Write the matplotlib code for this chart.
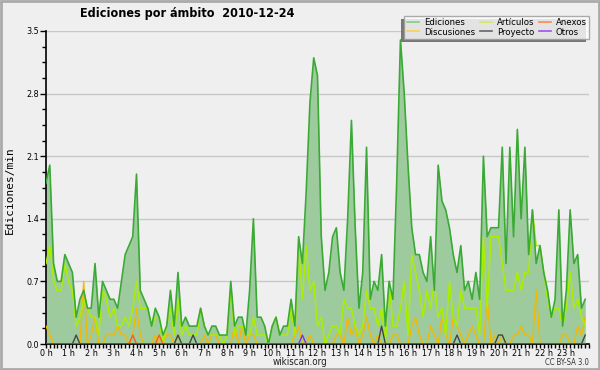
import numpy as np
import matplotlib
matplotlib.use("Agg")
import matplotlib.pyplot as plt
from matplotlib.lines import Line2D
from matplotlib.patches import Rectangle

plt.rcParams["font.family"] = ["DejaVu Sans"]
plt.rcParams["font.stretch"] = "condensed"

# 10-minute buckets (144 per day), values in edits/min
ediciones = [
    1.8, 2.0, 0.9, 0.7, 0.7, 1.0, 0.9, 0.8, 0.3, 0.5, 0.6, 0.4, 0.4, 0.9, 0.3, 0.7, 0.6, 0.5, 0.5, 0.4, 0.7, 1.0, 1.1, 1.2,
    1.9, 0.6, 0.5, 0.4, 0.2, 0.4, 0.3, 0.1, 0.2, 0.6, 0.2, 0.8, 0.2, 0.3, 0.2, 0.2, 0.2, 0.4, 0.2, 0.1, 0.2, 0.2, 0.1, 0.1,
    0.1, 0.7, 0.2, 0.3, 0.3, 0.1, 0.6, 1.4, 0.3, 0.3, 0.2, 0.0, 0.2, 0.3, 0.1, 0.2, 0.2, 0.5, 0.2, 1.2, 0.9, 1.7, 2.7, 3.2,
    3.0, 1.2, 0.6, 0.8, 1.2, 1.3, 0.8, 0.6, 1.4, 2.5, 1.3, 0.4, 0.8, 2.2, 0.5, 0.7, 0.6, 1.0, 0.2, 0.7, 0.5, 1.8, 3.4, 2.8,
    2.0, 1.3, 1.0, 1.0, 0.8, 0.7, 1.2, 0.6, 2.0, 1.6, 1.5, 1.3, 1.0, 0.8, 1.1, 0.6, 0.7, 0.5, 0.8, 0.5, 2.1, 1.2, 1.3, 1.3,
    1.3, 2.2, 0.9, 2.2, 1.2, 2.4, 1.4, 2.2, 1.0, 1.5, 0.9, 1.1, 0.8, 0.6, 0.3, 0.5, 1.5, 0.2, 0.6, 1.5, 0.9, 1.0, 0.4, 0.5,
]
articulos = [
    0.9, 1.1, 0.7, 0.6, 0.6, 0.9, 0.7, 0.6, 0.2, 0.3, 0.5, 0.4, 0.3, 0.3, 0.1, 0.6, 0.5, 0.3, 0.4, 0.2, 0.2, 0.3, 0.2, 0.4,
    0.7, 0.4, 0.4, 0.4, 0.2, 0.3, 0.3, 0.0, 0.2, 0.4, 0.1, 0.5, 0.1, 0.2, 0.1, 0.1, 0.1, 0.4, 0.2, 0.1, 0.1, 0.1, 0.1, 0.0,
    0.1, 0.6, 0.1, 0.2, 0.2, 0.1, 0.1, 0.3, 0.1, 0.1, 0.1, 0.0, 0.2, 0.3, 0.1, 0.1, 0.1, 0.4, 0.1, 1.1, 0.5, 1.1, 0.6, 0.7,
    0.2, 0.3, 0.0, 0.1, 0.2, 0.2, 0.1, 0.5, 0.4, 0.4, 0.2, 0.1, 0.2, 0.6, 0.4, 0.4, 0.2, 0.4, 0.0, 0.7, 0.2, 0.2, 0.4, 0.7,
    0.1, 1.0, 0.8, 0.6, 0.3, 0.6, 0.4, 0.7, 0.3, 0.4, 0.1, 0.7, 0.3, 0.2, 0.6, 0.4, 0.4, 0.4, 0.4, 0.1, 1.2, 0.4, 1.2, 1.2,
    1.2, 0.9, 0.6, 0.6, 0.6, 0.8, 0.6, 0.8, 0.8, 1.5, 1.1, 1.1, 0.8, 0.5, 0.3, 0.4, 0.4, 0.2, 0.4, 0.8, 0.4, 0.5, 0.3, 0.2,
]
discusiones = [
    0.2, 0.1, 0.0, 0.0, 0.0, 0.0, 0.0, 0.0, 0.0, 0.0, 0.7, 0.0, 0.1, 0.3, 0.0, 0.0, 0.1, 0.1, 0.1, 0.2, 0.1, 0.1, 0.0, 0.1,
    0.4, 0.1, 0.0, 0.0, 0.0, 0.1, 0.0, 0.0, 0.1, 0.1, 0.0, 0.1, 0.0, 0.0, 0.0, 0.0, 0.0, 0.0, 0.1, 0.0, 0.1, 0.1, 0.0, 0.0,
    0.0, 0.0, 0.2, 0.0, 0.2, 0.0, 0.1, 0.1, 0.0, 0.0, 0.0, 0.0, 0.0, 0.0, 0.0, 0.0, 0.0, 0.0, 0.1, 0.2, 0.0, 0.0, 0.1, 0.0,
    0.0, 0.0, 0.0, 0.0, 0.0, 0.1, 0.1, 0.0, 0.3, 0.1, 0.2, 0.0, 0.1, 0.3, 0.1, 0.0, 0.1, 0.0, 0.0, 0.0, 0.1, 0.1, 0.0, 0.0,
    0.0, 0.2, 0.3, 0.1, 0.0, 0.0, 0.2, 0.1, 0.0, 0.3, 0.1, 0.0, 0.3, 0.2, 0.1, 0.0, 0.1, 0.2, 0.1, 0.0, 0.0, 0.5, 0.0, 0.1,
    0.0, 0.1, 0.0, 0.0, 0.1, 0.1, 0.2, 0.1, 0.1, 0.0, 0.6, 0.0, 0.0, 0.0, 0.0, 0.0, 0.0, 0.1, 0.1, 0.0, 0.0, 0.2, 0.1, 0.3,
]
proyecto_idx = [8, 35, 39, 89, 109, 120, 121, 143]
proyecto_val = [0.1, 0.1, 0.1, 0.2, 0.1, 0.1, 0.1, 0.1]
anexos_idx = [23, 30]
anexos_val = [0.1, 0.1]
otros_idx = [68]
otros_val = [0.1]

hour_labels = [f"{h} h" for h in range(24)]
y_ticks = [0.0, 0.7, 1.4, 2.1, 2.8, 3.5]

n = len(ediciones)
x = np.arange(n) / 6.0

def sparse(idx, val):
    arr = np.zeros(n)
    arr[idx] = val
    return arr

proyecto = sparse(proyecto_idx, proyecto_val)
anexos = sparse(anexos_idx, anexos_val)
otros = sparse(otros_idx, otros_val)

bg = "#efeff0"
fig = plt.figure(figsize=(6, 3.7), dpi=100, facecolor=bg)
ax = fig.add_axes([46/600, 26/370, 543/600, 313/370])
ax.set_facecolor(bg)

for yv in y_ticks[1:]:
    ax.axhline(yv, color="#c8c8c8", lw=1, zorder=0)

c_ed = "#3aaa35"
c_art = "#aaee00"
c_dis = "#f5b800"
c_anx = "#ff5a1a"
c_pro = "#444444"
c_otr = "#8030e0"

ax.fill_between(x, ediciones, color="#9dcb9d", lw=0, zorder=1)
ax.plot(x, discusiones, color=c_dis, lw=1, zorder=3)
ax.plot(x, anexos, color=c_anx, lw=1, zorder=4)
ax.plot(x, proyecto, color=c_pro, lw=1, zorder=4)
ax.plot(x, otros, color=c_otr, lw=1, zorder=4)
ax.plot(x, articulos, color=c_art, lw=1.1, zorder=3)
ax.plot(x, ediciones, color=c_ed, lw=1.2, zorder=5)

ax.set_xlim(0, 24)
ax.set_ylim(0, 3.5)
ax.set_xticks(range(24))
ax.set_xticklabels(hour_labels, fontsize=6.5)
ax.set_xticks(np.arange(0, 24.01, 1/6), minor=True)
ax.set_yticks(y_ticks)
ax.set_yticklabels([f"{v:.1f}" for v in y_ticks], fontsize=6.5)
ax.set_yticks(np.arange(0, 3.51, 0.175), minor=True)
ax.tick_params(axis="x", which="major", length=3, width=1, pad=0.5, colors="black")
ax.tick_params(axis="x", which="minor", length=3, width=1)
ax.tick_params(axis="y", which="major", length=4, width=1, pad=1)
ax.tick_params(axis="y", which="minor", length=3, width=1)
for s in ["top", "right"]:
    ax.spines[s].set_visible(False)
for s in ["left", "bottom"]:
    ax.spines[s].set_linewidth(1.2)
    ax.spines[s].set_color("black")

fig.text(187/600, 1 - 14/370, "Ediciones por ámbito  2010-12-24", ha="center", va="center",
         fontsize=9, fontweight="bold")
fig.text(10/600, 1 - 190/370, "Ediciones/min", rotation=90, ha="center", va="center",
         fontsize=8, family="DejaVu Sans Mono", stretch="normal")
fig.text(300/600, 1 - 362/370, "wikiscan.org", ha="center", va="center", fontsize=7, color="#222222")
fig.text(589/600, 1 - 362.5/370, "CC BY-SA 3.0", ha="right", va="center", fontsize=5.5, color="#333333")

handles = [
    Line2D([], [], color="#80d080", lw=1.2, label="Ediciones"),
    Line2D([], [], color="#ffd050", lw=1.2, label="Discusiones"),
    Line2D([], [], color="#ccee55", lw=1.2, label="Artículos"),
    Line2D([], [], color="#666666", lw=1.2, label="Proyecto"),
    Line2D([], [], color="#ff8850", lw=1.2, label="Anexos"),
    Line2D([], [], color="#9955ee", lw=1.2, label="Otros"),
]
leg = fig.legend(handles=handles, loc="upper right", bbox_to_anchor=(594/600, 1 - 11/370), ncol=3,
                 fontsize=6.8, handlelength=1.3, handletextpad=0.5, columnspacing=0.5, labelspacing=0.05,
                 borderpad=0.25, frameon=True, fancybox=False, shadow=False)
leg.get_frame().set_edgecolor("#999999")
leg.get_frame().set_facecolor("white")
leg.get_frame().set_linewidth(1)
leg.set_zorder(10)

# manual shadow offset to the left and down
fig.canvas.draw()
bb = leg.get_frame().get_window_extent()
W, H = fig.bbox.width, fig.bbox.height
shadow = Rectangle(((bb.x0 - 3) / W, (bb.y0 - 3) / H), bb.width / W, bb.height / H,
                   transform=fig.transFigure, facecolor="#777777", edgecolor="none", zorder=9)
fig.patches.append(shadow)

fig.patches.append(Rectangle((0.002, 0.003), 0.996, 0.994, transform=fig.transFigure, fill=False,
                             edgecolor="#aaaaaa", lw=2))

fig.savefig("out.png", dpi=100, facecolor=bg)
